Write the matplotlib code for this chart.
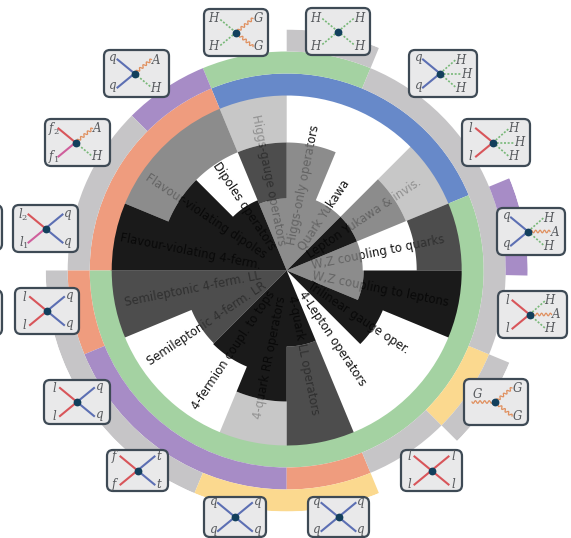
#!/usr/bin/env python3
"""
Circular map of operator sectors with their coupling rings and Feynman diagrams.
"""

import numpy as np
import matplotlib
matplotlib.use('Agg')
import matplotlib.pyplot as plt
from matplotlib.patches import FancyBboxPatch, PathPatch
from matplotlib.path import Path

WIDTH, HEIGHT = 571, 538
CX, CY = 286.7, 270.5
RMAX = 241

# sectors run counter-clockwise from east, 22.5 degrees each
sector_labels = [
    'W,Z coupling to quarks', 'Lepton Yukawa & invis.', 'Quark Yukawa',
    'Higgs-only operators', 'Higgs-gauge operators', 'Dipoles operators',
    'Flavour-violating dipoles', 'Flavour-violating 4-ferm.',
    'Semileptonic 4-ferm. LL', 'Semileptonic 4-ferm. LR',
    '4-fermion coupl. to tops', '4-quark RR operators',
    '4-quark LL operators', '4-Lepton operators',
    'Trilinear gauge oper.', 'W,Z coupling to leptons',
]

# radial band edges for each sector
inner_top = [76, 76, 76, 76, 72, 76, 76, 76, 76, 76, 76, 76, 76, 76, 76, 77]
mid_top = [130, 129, 129, 128, 128, 128, 128, 128, 128, 103, 104, 131, 131, 104, 104, 130]
outer_top = [176] * 16

# grey level of each band
inner_shade = [.55, .1, .55, .55, .55, .1, .1, .1, .3, .3, .1, .1, .1, 1., .1, .55]
mid_shade = [1., .55, 1., .55, .3, 1., .1, .1, .3, .3, .1, .1, .3, 1., .1, .1]
outer_shade = [.3, .78, 1., 1., .78, .55, .55, .1, .3, 1., 1., .78, .3, 1., 1., .1]

# level -> (face grey, alpha); the labels sit under the bars and show through
shade_style = {
    .78: (.714, .77),
    .55: (.458, .83),
    .3: (.205, .88),
    .1: (.032, .93),
}

BLUE = '#6789c9'
GREEN = '#a4d2a2'
ORANGE = '#ef9c7e'
PURPLE = '#a78cc6'
YELLOW = '#fbd98f'
GREY = '#c6c5c7'

# rings: (start deg, end deg, colour)
ring1 = [(22.5, 112.5, BLUE), (112.5, 180, ORANGE), (-180, 22.5, GREEN)]
ring2 = [
    (67.5, 112.5, GREEN), (112.5, 135, PURPLE), (135, 180, GREY),
    (180, 202.5, ORANGE), (202.5, 270, PURPLE), (270, 292.5, ORANGE),
    (292.5, 315, GREY), (315, 337.5, YELLOW), (337.5, 427.5, GREY),
]
ring3 = [
    (-1.2, 22.5, PURPLE), (67.5, 90, GREY), (180, 247.5, GREY),
    (247.5, 292.5, YELLOW), (315, 337.5, GREY),
]

LEG_STYLE = {
    'q': ('#5c6fb3', '-'),
    'l': ('#d8555a', '-'),
    'p': ('#cf5f9c', '-'),
    'H': ('#78b878', (0, (1.2, 1))),
    'V': ('#e0905f', '-'),
}

LEFT_TWO = [(-17, -14), (-17, 14)]
RIGHT_TWO = [(17, -14), (17, 14)]
RIGHT_THREE = [(16, -14), (22, 0), (16, 14)]
LEFT_ONE = [(-23, 0)]

# diagrams: box x0, y0, x1, y1, vertex shift, leg ends, leg kinds, leg labels
diagrams = [
    (204, 9, 268, 56, 0, LEFT_TWO + RIGHT_TWO, 'HHVV', ['H', 'H', 'G', 'G']),
    (306, 8, 370, 55, 0, LEFT_TWO + RIGHT_TWO, 'HHHH', ['H', 'H', 'H', 'H']),
    (409, 50, 477, 97, -3, LEFT_TWO + RIGHT_THREE, 'qqHHH', ['q', 'q', 'H', 'H', 'H']),
    (462, 119, 530, 166, -3, LEFT_TWO + RIGHT_THREE, 'llHHH', ['l', 'l', 'H', 'H', 'H']),
    (497, 208, 565, 255, -3, LEFT_TWO + RIGHT_THREE, 'qqHVH', ['q', 'q', 'H', 'A', 'H']),
    (498, 291, 567, 338, -3, LEFT_TWO + RIGHT_THREE, 'llHVH', ['l', 'l', 'H', 'A', 'H']),
    (464, 379, 528, 425, -1, LEFT_ONE + RIGHT_TWO, 'VVV', ['G', 'G', 'G']),
    (401, 450, 462, 491, 0, LEFT_TWO + RIGHT_TWO, 'llll', ['l', 'l', 'l', 'l']),
    (308, 497, 369, 537, 0, LEFT_TWO + RIGHT_TWO, 'qqqq', ['q', 'q', 'q', 'q']),
    (204, 497, 266, 537, 0, LEFT_TWO + RIGHT_TWO, 'qqqq', ['q', 'q', 'q', 'q']),
    (107, 450, 168, 491, 0, LEFT_TWO + RIGHT_TWO, 'llqq', ['f', 'f', 't', 't']),
    (44, 380, 110, 424, 0, LEFT_TWO + RIGHT_TWO, 'llqq', ['l', 'l', 'q', 'q']),
    (15, 288, 79, 334, 0, LEFT_TWO + RIGHT_TWO, 'llqq', ['l', 'l', 'q', 'q']),
    (13, 205, 78, 252, 0, LEFT_TWO + RIGHT_TWO, 'lpqq', ['l_2', 'l_1', 'q', 'q']),
    (45, 119, 110, 166, -2, LEFT_TWO + RIGHT_TWO, 'lpVH', ['f_2', 'f_1', 'A', 'H']),
    (104, 50, 169, 97, -2, LEFT_TWO + RIGHT_TWO, 'qqVH', ['q', 'q', 'A', 'H']),
]

# neighbouring panels cut by the left edge of the image
cut_boxes = [(-60, 205, 2, 250), (-60, 290, 2, 335)]


def band_path(i, bottom, top, step):
    # one band of sector i as a closed polygon in (theta, r)
    thetas = np.linspace(step * i, step * (i + 1), 30)
    verts = np.concatenate([
        np.column_stack([thetas, np.full(30, top)]),
        np.column_stack([thetas[::-1], np.full(30, bottom)]),
        [[thetas[0], top]],
    ])
    codes = [Path.MOVETO] + [Path.LINETO] * 59 + [Path.CLOSEPOLY]
    return Path(verts, codes)


def draw_bands(ax):
    # one compound patch per grey level, so touching see-through bands leave no seams
    step = np.radians(22.5)
    cells = {level: [] for level in shade_style}
    for i in range(len(sector_labels)):
        edges = [0, inner_top[i], mid_top[i], outer_top[i]]
        levels = [inner_shade[i], mid_shade[i], outer_shade[i]]
        for j, level in enumerate(levels):
            if level in cells:
                cells[level].append(band_path(i, edges[j], edges[j + 1], step))
    for level, paths in cells.items():
        face, alpha = shade_style[level]
        ax.add_patch(PathPatch(Path.make_compound_path(*paths), fc=str(face), alpha=alpha,
                               lw=0, transform=ax.transData, zorder=2))


def draw_ring(ax, segments, bottom, top):
    for start, end, colour in segments:
        mid = np.radians((start + end) / 2)
        ax.bar(mid, top - bottom, width=np.radians(end - start), bottom=bottom,
               color=colour, linewidth=0, zorder=3)


def draw_box(ov, x0, y0, x1, y1):
    pad = 6
    box = FancyBboxPatch((x0 + pad, y0 + pad), x1 - x0 - 2 * pad, y1 - y0 - 2 * pad,
                         boxstyle=f'round,pad={pad},rounding_size=6',
                         fc='#e9e9ea', ec='#3e4a55', lw=1.6, zorder=1)
    ov.add_patch(box)


def draw_leg(ov, vx, vy, dx, dy, kind):
    colour, style = LEG_STYLE[kind]
    if kind == 'V':
        # wavy boson line
        t = np.linspace(0, 1, 80)
        length = np.hypot(dx, dy)
        wave = 1.3 * np.sin(2 * np.pi * 5 * t)
        xs = vx + dx * t - dy / length * wave
        ys = vy + dy * t + dx / length * wave
        ov.plot(xs, ys, color=colour, lw=0.9, zorder=2)
    else:
        ov.plot([vx, vx + dx], [vy, vy + dy], color=colour, ls=style,
                lw=1.5 if kind != 'H' else 1.2, zorder=2)


def draw_diagram(ov, x0, y0, x1, y1, shift, ends, kinds, labels):
    draw_box(ov, x0, y0, x1, y1)
    vx = (x0 + x1) / 2 + shift
    vy = (y0 + y1) / 2
    for (dx, dy), kind, label in zip(ends, kinds, labels):
        draw_leg(ov, vx, vy, dx, dy, kind)
        lx = vx + dx + (5 if dx > 0 else -5)
        ly = vy + dy
        if dy == 0 and dx < 0:
            lx, ly = vx + dx + 5, vy - 8
        ov.text(lx, ly, f'${label}$', color='#55585c', fontsize=8.5,
                ha='center', va='center', zorder=4)
    ov.plot([vx], [vy], 'o', color='#123f5c', markersize=4.6, zorder=3)


def main():
    plt.rcParams['mathtext.fontset'] = 'dejavuserif'
    fig = plt.figure(figsize=(WIDTH / 100, HEIGHT / 100), dpi=100)

    ax = fig.add_axes([(CX - RMAX) / WIDTH, 1 - (CY + RMAX) / HEIGHT,
                       2 * RMAX / WIDTH, 2 * RMAX / HEIGHT], projection='polar')
    ax.set_ylim(0, RMAX)
    ax.axis('off')

    draw_bands(ax)

    for i, label in enumerate(sector_labels):
        deg = 22.5 * (i + 0.5)
        # labels read outward on the right half, inward on the left half
        left_side = 90 < deg < 270
        ax.text(np.radians(deg), 26, label, fontsize=8.4, color='#151515', va='center',
                ha='right' if left_side else 'left', rotation_mode='anchor',
                rotation=deg - 180 if left_side else deg, zorder=1)

    draw_ring(ax, ring1, 175, 197)
    draw_ring(ax, ring2, 197, 219)
    draw_ring(ax, ring3, 219, 241)

    ov = fig.add_axes([0, 0, 1, 1])
    ov.set_xlim(0, WIDTH)
    ov.set_ylim(HEIGHT, 0)
    ov.axis('off')
    for spec in diagrams:
        draw_diagram(ov, *spec)
    for x0, y0, x1, y1 in cut_boxes:
        draw_box(ov, x0, y0, x1, y1)

    fig.savefig('out.png', dpi=100)


if __name__ == '__main__':
    main()
